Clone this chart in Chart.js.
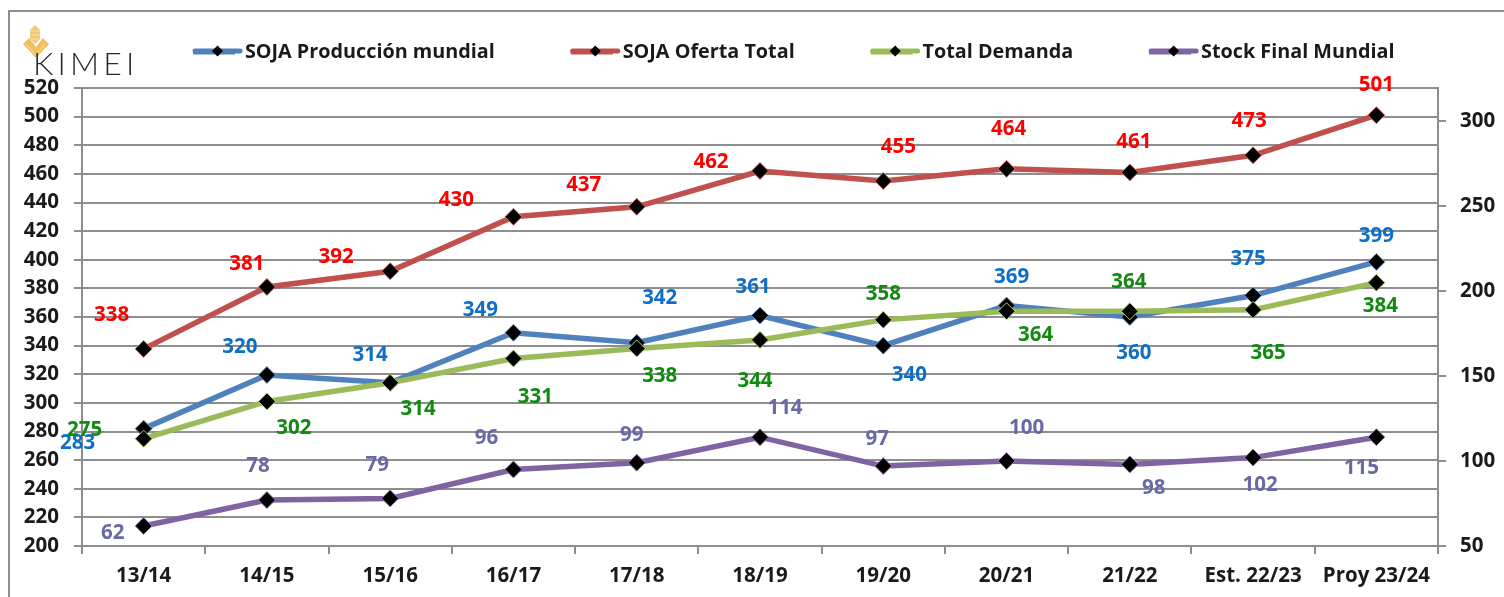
<!DOCTYPE html>
<html lang="es">
<head>
<meta charset="utf-8">
<title>SOJA</title>
<style>
html,body{margin:0;padding:0;background:#fff;width:1504px;height:597px;overflow:hidden}
#wrap{position:relative;width:1504px;height:597px}
canvas{position:absolute;left:0;top:0}
#frame{position:absolute;left:8px;top:10px;right:-4px;bottom:-4px;border:2px solid #8e8e8e;pointer-events:none}
#logo{position:absolute;left:33px;top:47px;font:300 32px Lato,sans-serif;letter-spacing:4.2px;color:#2b2b2b;line-height:32px}
#wheat{position:absolute;left:21px;top:24px}
</style>
</head>
<body>
<div id="wrap">
<canvas id="c" width="1504" height="597"></canvas>
<div id="frame"></div>
<svg id="wheat" width="30" height="36" viewBox="0 0 30 36">
<path d="M14 1l5 5 0 9-5 5-5-5 0-9z" fill="#f2c874"/>
<path d="M2 20l6-6 7 9 7-9 6 6-13 14z" fill="#f0c060"/>
<path d="M9 7l10 0M9 11l10 0M9 15l10 0M5 20l10 11M24 20l-9 11" stroke="#fbe7b8" stroke-width="0.8" fill="none"/>
</svg>
<div id="logo">KIMEI</div>
</div>
<script src="https://cdn.jsdelivr.net/npm/chart.js@4"></script>
<script>
const categories = ['13/14','14/15','15/16','16/17','17/18','18/19','19/20','20/21','21/22','Est. 22/23','Proy 23/24'];

const produccion = [282,319.5,314,349,342,361,340,368,360,375,398.5];
const oferta     = [337.7,381,392,430,437,462,455,463.5,461,473,501];
const demanda    = [275,301,314,331,338,344,358,364,364,365,384];
const stock      = [61.8,77,78,95,99,114,97,100,98,102,114];

const produccionLabels = ['283','320','314','349','342','361','340','369','360','375','399'];
const ofertaLabels     = ['338','381','392','430','437','462','455','464','461','473','501'];
const demandaLabels    = ['275','302','314','331','338','344','358','364','364','365','384'];
const stockLabels      = ['62','78','79','96','99','114','97','100','98','102','115'];

/* label displacement from its point, in px */
const produccionOffsets = [[-66,15],[-27,-28],[-20,-28],[-33,-23],[23,-45],[-7,-28],[26,30],[5,-28],[4,36],[-5,-36],[0,-26]];
const ofertaOffsets     = [[-32,-34],[-20,-23],[-54,-14],[-57,-17],[-53,-22],[-49,-9],[15,-34],[2,-40],[4,-30],[-4,-34],[0,-30]];
const demandaOffsets    = [[-59,-9],[27,27],[28,26],[22,39],[23,28],[-5,41],[0,-26],[29,24],[-1,-29],[15,43],[4,24]];
const stockOffsets      = [[-31,7],[-9,-34],[-13,-33],[-27,-31],[-5,-28],[25,-29],[-6,-27],[20,-33],[24,24],[7,28],[-15,31]];

const FONT = '"Open Sans", sans-serif';
const GRID = '#8e8e8e';
const INK = '#1a1a1a';

function series(label, data, color, halo, yAxisID, order, labels, offsets, labelColor){
  return {label, data, yAxisID, order, labels, offsets, labelColor,
    borderColor: color, backgroundColor: color, borderWidth: 5.5,
    pointStyle: 'rectRot', pointRadius: 8.5, pointBorderWidth: 1,
    pointBackgroundColor: '#000', pointBorderColor: halo, tension: 0, clip: false};
}

const pointLabels = {
  id: 'pointLabels',
  afterDatasetsDraw(chart){
    const ctx = chart.ctx;
    ctx.save();
    ctx.font = 'bold 20.5px ' + FONT;
    ctx.textAlign = 'center';
    ctx.textBaseline = 'middle';
    chart.data.datasets.forEach((ds, i) => {
      chart.getDatasetMeta(i).data.forEach((pt, j) => {
        ctx.fillStyle = ds.labelColor;
        ctx.fillText(ds.labels[j], pt.x + ds.offsets[j][0], pt.y + ds.offsets[j][1]);
      });
    });
    ctx.restore();
  }
};

const legendPlacer = {
  id: 'legendPlacer',
  afterLayout(chart){
    const l = chart.legend;
    const pad = l.options.labels.padding;
    l.left = 193 - pad;
    l.top = 42 - pad;
    l.adjustHitBoxes();
  },
  afterDraw(chart){
    const ctx = chart.ctx;
    const l = chart.legend;
    l.legendHitBoxes.forEach((b, i) => {
      const ds = chart.data.datasets[l.legendItems[i].datasetIndex];
      const y = 51, x = b.left;
      ctx.save();
      ctx.strokeStyle = ds.borderColor;
      ctx.lineWidth = 5;
      ctx.lineCap = 'round';
      ctx.beginPath(); ctx.moveTo(x + 2, y); ctx.lineTo(x + 47, y); ctx.stroke();
      ctx.fillStyle = '#000';
      ctx.beginPath();
      ctx.moveTo(x + 24.5, y - 5.5); ctx.lineTo(x + 30, y); ctx.lineTo(x + 24.5, y + 5.5); ctx.lineTo(x + 19, y);
      ctx.closePath(); ctx.fill();
      ctx.restore();
    });
  }
};

new Chart(document.getElementById('c'), {
  type: 'line',
  data: {
    labels: categories,
    datasets: [
      series('SOJA Producción mundial', produccion, '#4f81bd', '#6f9bd0', 'y', 3, produccionLabels, produccionOffsets, '#0f6fc6'),
      series('SOJA Oferta Total', oferta, '#c0504d', '#d87370', 'y', 2, ofertaLabels, ofertaOffsets, '#ff0000'),
      series('Total Demanda', demanda, '#9bbb59', '#b4cf78', 'y', 1, demandaLabels, demandaOffsets, '#128a12'),
      series('Stock Final Mundial', stock, '#8064a2', '#9a82b8', 'y1', 0, stockLabels, stockOffsets, '#6a68a6')
    ]
  },
  plugins: [pointLabels, legendPlacer],
  options: {
    responsive: false,
    animation: false,
    layout: {padding: {top: 78, left: 0, right: 0, bottom: 0}},
    plugins: {
      title: {display: false},
      tooltip: {enabled: false},
      legend: {
        display: true, position: 'top', align: 'start', maxHeight: 10,
        labels: {
          boxWidth: 42, boxHeight: 5, padding: 76, color: INK,
          font: {family: FONT, size: 19.8, weight: 'bold'},
          sort: (a, b) => a.datasetIndex - b.datasetIndex,
          generateLabels(chart){
            return Chart.defaults.plugins.legend.labels.generateLabels(chart).map(it => ({...it, lineWidth: 0}));
          }
        }
      }
    },
    scales: {
      x: {
        offset: true,
        afterFit(s){ s.height = 51; },
        grid: {offset: true, drawOnChartArea: false, drawTicks: true, tickLength: 8, color: GRID, lineWidth: 2},
        border: {color: GRID, width: 2},
        ticks: {color: INK, padding: 10, maxRotation: 0, autoSkip: false, font: {family: FONT, size: 20.5, weight: 'bold'}}
      },
      y: {
        position: 'left', min: 200, max: 520,
        afterFit(s){ s.width = 82; },
        grid: {color: GRID, lineWidth: 2, tickLength: 8},
        border: {color: GRID, width: 2},
        ticks: {stepSize: 20, color: INK, padding: 15, font: {family: FONT, size: 20.5, weight: 'bold'}}
      },
      y1: {
        position: 'right', min: 50, max: 319.4,
        afterFit(s){ s.width = 66; },
        grid: {drawOnChartArea: false, color: GRID, lineWidth: 2, tickLength: 8},
        border: {color: GRID, width: 2},
        ticks: {stepSize: 50, includeBounds: false, color: INK, padding: 14, font: {family: FONT, size: 20.5, weight: 'bold'}}
      }
    }
  }
});
</script>
</body>
</html>
